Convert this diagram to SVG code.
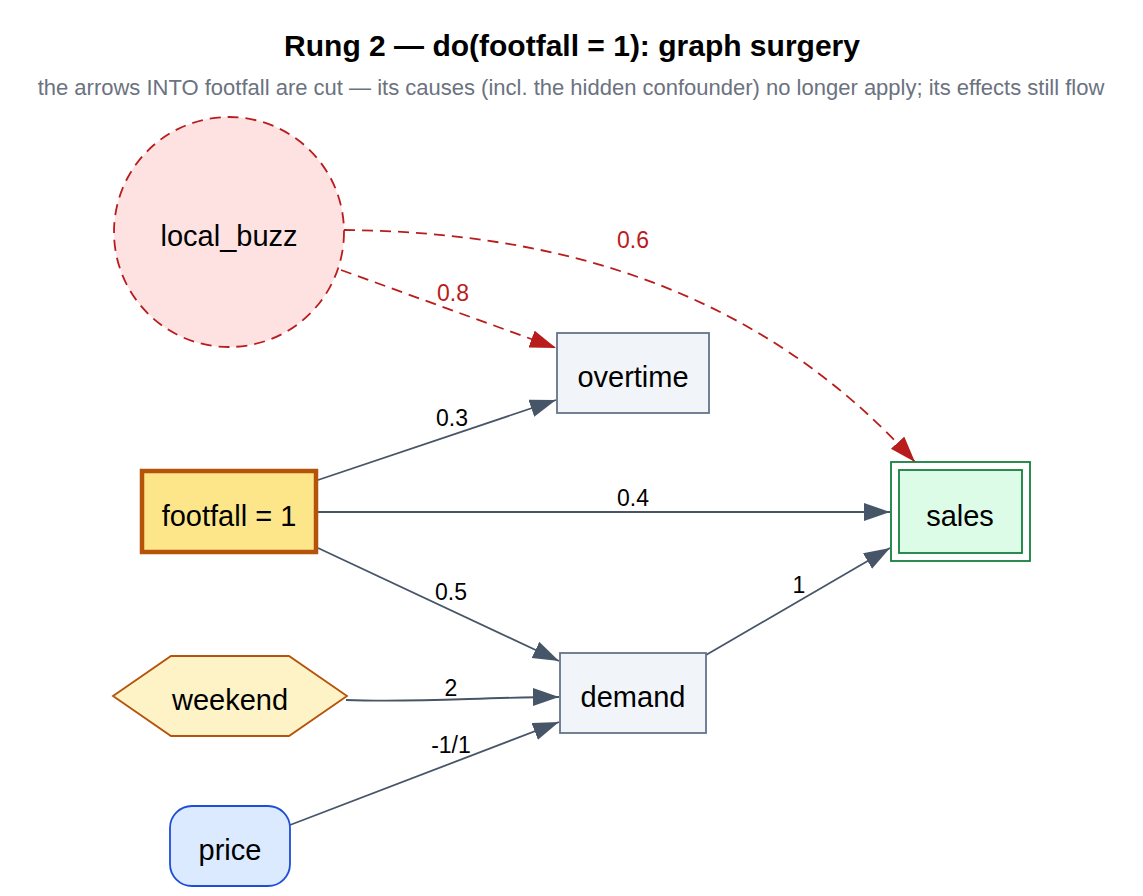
<svg xmlns="http://www.w3.org/2000/svg" width="1143" height="896" viewBox="0 0 1143 896">
<style>
text{font-family:"Liberation Sans",Arial,Helvetica,sans-serif;text-anchor:middle}
.title{font-size:30px;font-weight:bold;fill:#000}
.sub{font-size:22px;fill:#6b7280}
.lbl{font-size:29px;fill:#000}
.el{font-size:23px;fill:#000}
.elr{font-size:23px;fill:#b91c1c}
.e{fill:none;stroke:#475569;stroke-width:1.8}
.er{fill:none;stroke:#b91c1c;stroke-width:1.8;stroke-dasharray:11,7}
.box{fill:#f1f5f9;stroke:#64748b;stroke-width:1.8}
</style>
<defs>
<marker id="ah" markerUnits="userSpaceOnUse" markerWidth="28" markerHeight="20" refX="26" refY="9" orient="auto"><path d="M0,0 L26,9 L0,18 z" fill="#475569"/></marker>
<marker id="ahr" markerUnits="userSpaceOnUse" markerWidth="28" markerHeight="20" refX="26" refY="9" orient="auto"><path d="M0,0 L26,9 L0,18 z" fill="#b91c1c"/></marker>
</defs>
<rect width="1143" height="896" fill="#fff"/>
<text class="title" x="572" y="56">Rung 2 — do(footfall = 1): graph surgery</text>
<text class="sub" x="571" y="95">the arrows INTO footfall are cut — its causes (incl. the hidden confounder) no longer apply; its effects still flow</text>
<g id="edges">
<path class="er" d="M341,270 L556,348" marker-end="url(#ahr)"/>
<text class="elr" x="453" y="301">0.8</text>
<path class="er" d="M344,230 C560,232 760,290 915,462" marker-end="url(#ahr)"/>
<text class="elr" x="633" y="248">0.6</text>
<path class="e" d="M318,480 L556,400" marker-end="url(#ah)"/>
<text class="el" x="452" y="426">0.3</text>
<path class="e" d="M318,512 L890,512" marker-end="url(#ah)"/>
<text class="el" x="633" y="506">0.4</text>
<path class="e" d="M318,548 L559,661" marker-end="url(#ah)"/>
<text class="el" x="451" y="600">0.5</text>
<path class="e" d="M706,655 L890,548" marker-end="url(#ah)"/>
<text class="el" x="799" y="593">1</text>
<path class="e" d="M346,700 C420,703 480,697 559,697" marker-end="url(#ah)"/>
<text class="el" x="451" y="696">2</text>
<path class="e" d="M290,825 L559,722" marker-end="url(#ah)"/>
<text class="el" x="451" y="753">-1/1</text>
</g>
<g id="local_buzz">
<circle cx="229" cy="232" r="115" fill="#fee2e2" stroke="#b91c1c" stroke-width="1.8" stroke-dasharray="11,7"/>
<text class="lbl" x="229" y="246">local_buzz</text>
</g>
<g id="overtime">
<rect class="box" x="557" y="333" width="152" height="80"/>
<text class="lbl" x="633" y="387">overtime</text>
</g>
<g id="footfall">
<rect x="142" y="471" width="174" height="81" fill="#fde68a" stroke="#b45309" stroke-width="4.5"/>
<text class="lbl" x="229" y="526">footfall = 1</text>
</g>
<g id="sales">
<rect x="891" y="462" width="139" height="99" fill="#fff" stroke="#15803d" stroke-width="1.8"/>
<rect x="899" y="470" width="123" height="83" fill="#dcfce7" stroke="#15803d" stroke-width="1.8"/>
<text class="lbl" x="960" y="526">sales</text>
</g>
<g id="demand">
<rect class="box" x="560" y="653" width="146" height="80"/>
<text class="lbl" x="633" y="707">demand</text>
</g>
<g id="weekend">
<polygon points="113,696 171,656 289,656 347,696 289,736 171,736" fill="#fef3c7" stroke="#b45309" stroke-width="1.8"/>
<text class="lbl" x="230" y="710">weekend</text>
</g>
<g id="price">
<rect x="170" y="806" width="120" height="80" rx="22" fill="#dbeafe" stroke="#1d4ed8" stroke-width="1.8"/>
<text class="lbl" x="230" y="860">price</text>
</g>
</svg>
